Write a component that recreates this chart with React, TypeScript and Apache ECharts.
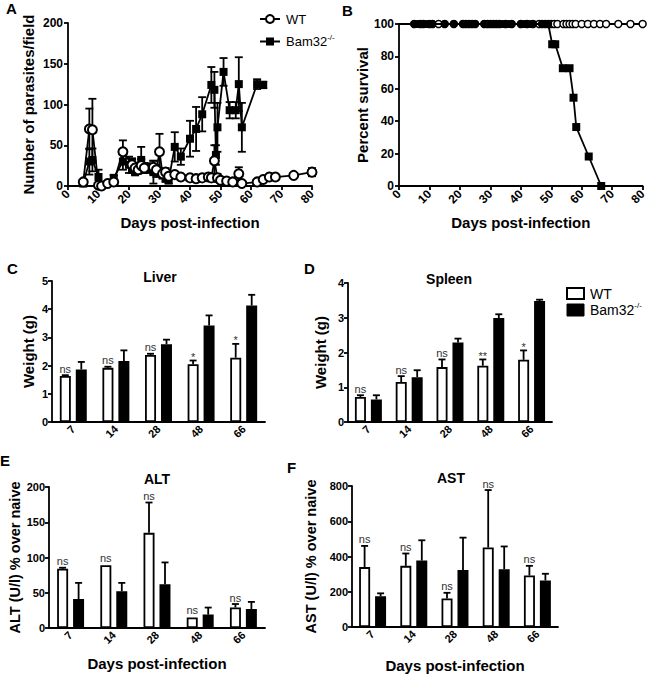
import React, { useEffect, useRef } from "react";
import * as echarts from "echarts";

const FONT = '"Liberation Sans", Arial, Helvetica, sans-serif';

// ---------- Panel A: parasites per field ----------
const wtParDays = [5, 7, 8, 10, 11, 13, 15, 18, 21, 22, 23, 24, 25, 28, 29, 30, 31, 32, 33, 35, 37, 40, 42, 44, 46, 47, 48, 49, 50, 52, 54, 56, 57, 62, 64, 66, 68, 74, 80];
const wtParMean = [5, 70, 69, 1, 0, 3, 5, 42, 26, 22, 20, 25, 22, 23, 20, 42, 15, 17, 12, 14, 11, 10, 9, 10, 11, 10, 31, 10, 7, 6, 5, 15, 3, 5, 8, 11, 11, 13, 17];
const wtParSem = [2, 25, 38, 2, 1, 1, 2, 14, 8, 6, 5, 8, 6, 8, 6, 22, 5, 5, 4, 3, 2, 3, 3, 4, 4, 3, 19, 5, 3, 2, 2, 8, 2, 2, 2, 2, 2, 2, 5];

const bamParDays = [5, 7, 8, 10, 11, 15, 18, 20, 21, 22, 24, 26, 28, 29, 31, 32, 33, 35, 37, 40, 42, 44, 47, 48, 48.5, 49, 51, 53, 55, 56, 57, 62, 64];
const bamParMean = [3, 30, 32, 11, 1, 10, 30, 26, 24, 18, 32, 22, 17, 17, 15, 10, 7, 48, 36, 58, 70, 88, 124, 118, 38, 72, 140, 93, 93, 125, 72, 125, 124];
const bamParSem = [1, 16, 14, 9, 1, 3, 10, 10, 8, 5, 16, 6, 14, 6, 6, 5, 4, 18, 10, 22, 27, 21, 22, 22, 12, 30, 17, 10, 10, 33, 30, 6, 4];

// ---------- Panel B: survival ----------
const wtSurvDays = [0, 5, 7, 8, 10, 11, 13, 15, 18, 21, 22, 23, 24, 25, 28, 29, 30, 31, 32, 33, 35, 37, 40, 42, 44, 46, 47, 48, 49, 50, 51, 52, 54, 55, 56, 57, 58, 60, 62, 64, 66, 68, 72, 76, 80];
const wtSurv = [100, 100, 100, 100, 100, 100, 100, 100, 100, 100, 100, 100, 100, 100, 100, 100, 100, 100, 100, 100, 100, 100, 100, 100, 100, 100, 100, 100, 100, 100, 100, 100, 100, 100, 100, 100, 100, 100, 100, 100, 100, 100, 100, 100, 100];
const bamSurvDays = [5, 6, 7, 8, 9, 10, 11, 15, 18, 21, 22, 23, 24, 25, 28, 29, 30, 31, 32, 33, 34, 35, 36, 37, 40, 41, 42, 43, 44, 47, 48, 49, 50.3, 51.3, 53.8, 56, 57.3, 58.2, 62.3, 66.4];
const bamSurv = [100, 100, 100, 100, 100, 100, 100, 100, 100, 100, 100, 100, 100, 100, 100, 100, 100, 100, 100, 100, 100, 100, 100, 100, 100, 100, 100, 100, 100, 100, 100, 100, 87.5, 87.5, 72.7, 72.7, 54.5, 36.4, 18.2, 0];

// ---------- Bar panels ----------
const dayCategories = ["7", "14", "28", "48", "66"];

const liverWT = [1.63, 1.92, 2.38, 2.05, 2.28];
const liverWTSem = [0.03, 0.04, 0.04, 0.13, 0.49];
const liverBam = [1.86, 2.16, 2.76, 3.42, 4.13];
const liverBamSem = [0.27, 0.38, 0.16, 0.36, 0.38];
const liverSig = ["ns", "ns", "ns", "*", "*"];

const spleenWT = [0.72, 1.15, 1.58, 1.62, 1.79];
const spleenWTSem = [0.05, 0.17, 0.22, 0.18, 0.27];
const spleenBam = [0.65, 1.29, 2.29, 2.99, 3.48];
const spleenBamSem = [0.12, 0.2, 0.11, 0.11, 0.04];
const spleenSig = ["ns", "ns", "ns", "**", "*"];

const altWT = [84, 89, 135, 15, 29];
const altWTSem = [1.5, 0, 43, 0, 5];
const altBam = [41, 52, 62, 19, 27];
const altBamSem = [23, 12, 31, 10, 10];
const altSig = ["ns", "ns", "ns", "ns", "ns"];

const astWT = [340, 347, 162, 451, 292];
const astWTSem = [120, 70, 32, 326, 55];
const astBam = [174, 377, 324, 328, 264];
const astBamSem = [17, 115, 183, 129, 38];
const astSig = ["ns", "ns", "ns", "ns", "ns"];

const BAR_W = 11;
const BAR_OFF = 8;
const LW = 1.8;

const lineStyle = { color: "#000", width: LW };
const tickLabel = (size: number) => ({ color: "#000", fontWeight: "bold" as const, fontSize: size, fontFamily: FONT });
const nameStyle = (size: number) => ({ color: "#000", fontWeight: "bold" as const, fontSize: size, fontFamily: FONT });

function xyErr(params: any, api: any) {
  const x = api.value(0), m = api.value(1), s = api.value(2);
  if (!(s > 0)) return { type: "group", children: [] };
  const t = api.coord([x, m + s]);
  const b = api.coord([x, Math.max(m - s, 0)]);
  const hw = 4;
  const st = { stroke: "#000", lineWidth: LW };
  return {
    type: "group",
    children: [
      { type: "line", shape: { x1: t[0], y1: t[1], x2: b[0], y2: b[1] }, style: st },
      { type: "line", shape: { x1: t[0] - hw, y1: t[1], x2: t[0] + hw, y2: t[1] }, style: st },
      { type: "line", shape: { x1: b[0] - hw, y1: b[1], x2: b[0] + hw, y2: b[1] }, style: st },
    ],
  };
}

function barErr(side: number, sig: string[] | null) {
  return (params: any, api: any) => {
    const i = api.value(0), m = api.value(1), s = api.value(2);
    const base = api.coord([i, m]);
    const top = api.coord([i, m + s]);
    const x = base[0] + side * BAR_OFF;
    const st = { stroke: "#000", lineWidth: LW };
    const children: any[] = [];
    if (s > 0) {
      children.push({ type: "line", shape: { x1: x, y1: base[1], x2: x, y2: top[1] }, style: st });
      children.push({ type: "line", shape: { x1: x - 3.5, y1: top[1], x2: x + 3.5, y2: top[1] }, style: st });
    }
    if (sig) {
      const txt = sig[params.dataIndex];
      const star = txt.indexOf("*") >= 0;
      children.push({
        type: "text",
        x: x,
        y: top[1] - (s > 0 ? 1 : 2) + (star ? 3 : 0),
        style: { text: txt, align: "center", verticalAlign: "bottom", fontSize: 11, fill: "#333", fontFamily: FONT },
      });
    }
    return { type: "group", children };
  };
}

function barAxes(gridIndex: number) {
  return {
    type: "category" as const,
    gridIndex,
    data: dayCategories,
    axisLine: { show: true, lineStyle },
    axisTick: { show: false },
    axisLabel: { ...tickLabel(11), rotate: 45, margin: 5, interval: 0 },
    splitLine: { show: false },
  };
}

function barY(gridIndex: number, max: number, interval: number, name: string, nameGap: number, nameSize: number) {
  return {
    type: "value" as const,
    gridIndex,
    min: 0,
    max,
    interval,
    axisLine: { show: true, lineStyle },
    axisTick: { show: true, length: 4, lineStyle },
    axisLabel: { ...tickLabel(11), margin: 4 },
    splitLine: { show: false },
    name,
    nameLocation: "middle" as const,
    nameGap,
    nameTextStyle: nameStyle(nameSize),
  };
}

function barSeries(axisIndex: number, wt: number[], wtSem: number[], bam: number[], bamSem: number[], sig: string[]) {
  return [
    {
      type: "bar", name: "WT", xAxisIndex: axisIndex, yAxisIndex: axisIndex, data: wt,
      barWidth: BAR_W, barGap: "45%",
      itemStyle: { color: "#fff", borderColor: "#000", borderWidth: LW },
    },
    {
      type: "bar", name: "Bam32", xAxisIndex: axisIndex, yAxisIndex: axisIndex, data: bam,
      barWidth: BAR_W, barGap: "45%",
      itemStyle: { color: "#000", borderColor: "#000", borderWidth: LW },
    },
    {
      type: "custom", xAxisIndex: axisIndex, yAxisIndex: axisIndex, z: 5,
      data: wt.map((v, i) => [i, v, wtSem[i]]),
      renderItem: barErr(-1, sig),
    },
    {
      type: "custom", xAxisIndex: axisIndex, yAxisIndex: axisIndex, z: 5,
      data: bam.map((v, i) => [i, v, bamSem[i]]),
      renderItem: barErr(1, null),
    },
  ];
}

const letter = (t: string, x: number, y: number) => ({
  type: "text", x, y,
  style: { text: t, fontSize: 15, fontWeight: "bold", fill: "#000", fontFamily: FONT, align: "left", verticalAlign: "top" },
});
const panelTitle = (t: string, x: number, y: number) => ({
  type: "text", x, y,
  style: { text: t, fontSize: 14, fontWeight: "bold", fill: "#000", fontFamily: FONT, align: "center", verticalAlign: "middle" },
});
const bamRich = (size: number) => ({
  text: "{b|Bam32}{s|-/-}",
  rich: {
    b: { fontSize: size, lineHeight: size + 3, fontFamily: FONT, fill: "#000" },
    s: { fontSize: 8, lineHeight: 9, verticalAlign: "top", fontFamily: FONT, fill: "#000" },
  },
  align: "left",
  verticalAlign: "middle",
});

export default function App() {
  const ref = useRef<HTMLDivElement>(null);
  useEffect(() => {
    if (!ref.current) return;
    const chart = echarts.init(ref.current, undefined, { renderer: "svg" });
    const option: any = {
      animation: false,
      backgroundColor: "#fff",
      textStyle: { fontFamily: FONT },
      grid: [
        { left: 68, top: 23, width: 244, height: 163 },
        { left: 399, top: 24, width: 244, height: 162 },
        { left: 52, top: 281, width: 213, height: 141 },
        { left: 348, top: 283, width: 204, height: 139 },
        { left: 49, top: 487, width: 216, height: 141 },
        { left: 352, top: 486, width: 206, height: 141 },
      ],
      xAxis: [
        {
          type: "value", gridIndex: 0, min: 0, max: 80, interval: 10,
          axisLine: { show: true, onZero: false, lineStyle },
          axisTick: { show: true, length: 4, lineStyle },
          axisLabel: { ...tickLabel(12), rotate: 45, margin: 6 },
          splitLine: { show: false },
          name: "Days post-infection", nameLocation: "middle", nameGap: 29, nameTextStyle: nameStyle(15),
        },
        {
          type: "value", gridIndex: 1, min: 0, max: 80, interval: 10,
          axisLine: { show: true, onZero: false, lineStyle },
          axisTick: { show: true, length: 4, lineStyle },
          axisLabel: { ...tickLabel(12), rotate: 45, margin: 6 },
          splitLine: { show: false },
          name: "Days post-infection", nameLocation: "middle", nameGap: 29, nameTextStyle: nameStyle(15),
        },
        barAxes(2),
        barAxes(3),
        { ...barAxes(4), name: "Days post-infection", nameLocation: "middle", nameGap: 28, nameTextStyle: nameStyle(15) },
        { ...barAxes(5), name: "Days post-infection", nameLocation: "middle", nameGap: 31, nameTextStyle: nameStyle(15) },
      ],
      yAxis: [
        {
          type: "value", gridIndex: 0, min: 0, max: 200, interval: 50,
          axisLine: { show: true, onZero: false, lineStyle },
          axisTick: { show: true, length: 4, lineStyle },
          axisLabel: { ...tickLabel(12), margin: 5 },
          splitLine: { show: false },
          name: "Number of parasites/field", nameLocation: "middle", nameGap: 32, nameTextStyle: nameStyle(15),
        },
        {
          type: "value", gridIndex: 1, min: 0, max: 100, interval: 20,
          axisLine: { show: true, onZero: false, lineStyle },
          axisTick: { show: true, length: 4, lineStyle },
          axisLabel: { ...tickLabel(12), margin: 5 },
          splitLine: { show: false },
          name: "Percent survival", nameLocation: "middle", nameGap: 26, nameTextStyle: nameStyle(15),
        },
        barY(2, 5, 1, "Weight (g)", 16, 15),
        barY(3, 4, 1, "Weight (g)", 20, 15),
        barY(4, 200, 50, "ALT (U/l) % over naive", 24, 14.5),
        barY(5, 800, 200, "AST (U/l) % over naive", 34, 14.5),
      ],
      series: [
        {
          type: "custom", xAxisIndex: 0, yAxisIndex: 0, z: 1,
          data: bamParDays.map((d, i) => [d, bamParMean[i], bamParSem[i]]),
          renderItem: xyErr,
        },
        {
          type: "custom", xAxisIndex: 0, yAxisIndex: 0, z: 1,
          data: wtParDays.map((d, i) => [d, wtParMean[i], wtParSem[i]]),
          renderItem: xyErr,
        },
        {
          type: "line", name: "Bam32", xAxisIndex: 0, yAxisIndex: 0, z: 2,
          data: bamParDays.map((d, i) => [d, bamParMean[i]]),
          symbol: "rect", symbolSize: 8,
          itemStyle: { color: "#000" },
          lineStyle: { color: "#000", width: LW },
        },
        {
          type: "line", name: "WT", xAxisIndex: 0, yAxisIndex: 0, z: 3,
          data: wtParDays.map((d, i) => [d, wtParMean[i]]),
          symbol: "circle", symbolSize: 9,
          itemStyle: { color: "#fff", borderColor: "#000", borderWidth: 2 },
          lineStyle: { color: "#000", width: LW },
        },
        {
          type: "line", name: "WT", xAxisIndex: 1, yAxisIndex: 1, z: 2,
          data: wtSurvDays.map((d, i) => [d, wtSurv[i]]),
          symbol: (v: number[]) => (v[0] === 0 ? "none" : "circle"),
          symbolSize: 7,
          itemStyle: { color: "#fff", borderColor: "#000", borderWidth: 1.5 },
          lineStyle: { color: "#000", width: LW },
        },
        {
          type: "line", name: "Bam32", xAxisIndex: 1, yAxisIndex: 1, z: 3,
          data: bamSurvDays.map((d, i) => [d, bamSurv[i]]),
          symbol: (v: number[]) => (v[1] >= 100 ? "circle" : "rect"),
          symbolSize: 8,
          itemStyle: { color: "#000" },
          lineStyle: { color: "#000", width: LW },
        },
        ...barSeries(2, liverWT, liverWTSem, liverBam, liverBamSem, liverSig),
        ...barSeries(3, spleenWT, spleenWTSem, spleenBam, spleenBamSem, spleenSig),
        ...barSeries(4, altWT, altWTSem, altBam, altBamSem, altSig),
        ...barSeries(5, astWT, astWTSem, astBam, astBamSem, astSig),
      ],
      graphic: [
        letter("A", 6, 1),
        letter("B", 342, 3),
        letter("C", 7, 261),
        letter("D", 304, 261),
        letter("E", 0, 453),
        letter("F", 287, 460),
        panelTitle("Liver", 160, 277),
        panelTitle("Spleen", 449, 279),
        panelTitle("ALT", 157, 479),
        panelTitle("AST", 451, 478),
        // legend panel A
        { type: "line", shape: { x1: 260, y1: 19, x2: 280, y2: 19 }, style: { stroke: "#000", lineWidth: 2 } },
        { type: "circle", shape: { cx: 270, cy: 19, r: 4 }, style: { fill: "#fff", stroke: "#000", lineWidth: 2 } },
        { type: "text", x: 286, y: 19, style: { text: "WT", fontSize: 13, fill: "#000", fontFamily: FONT, align: "left", verticalAlign: "middle" } },
        { type: "line", shape: { x1: 260, y1: 41.5, x2: 280, y2: 41.5 }, style: { stroke: "#000", lineWidth: 2 } },
        { type: "rect", shape: { x: 266, y: 37.5, width: 8, height: 8 }, style: { fill: "#000" } },
        { type: "text", x: 286, y: 41.5, style: bamRich(13) },
        // legend panel D
        { type: "rect", shape: { x: 567, y: 288, width: 17, height: 11 }, style: { fill: "#fff", stroke: "#000", lineWidth: 2 } },
        { type: "rect", shape: { x: 567, y: 304, width: 17, height: 12 }, style: { fill: "#000", stroke: "#000", lineWidth: 1 } },
        { type: "text", x: 590, y: 293.5, style: { text: "WT", fontSize: 14, fill: "#000", fontFamily: FONT, align: "left", verticalAlign: "middle" } },
        { type: "text", x: 590, y: 310, style: bamRich(14) },
      ],
    };
    chart.setOption(option);
    return () => chart.dispose();
  }, []);
  return (
    <div
      ref={ref}
      style={{ position: "absolute", left: 0, top: 0, width: 649, height: 680, background: "#fff" }}
    />
  );
}
